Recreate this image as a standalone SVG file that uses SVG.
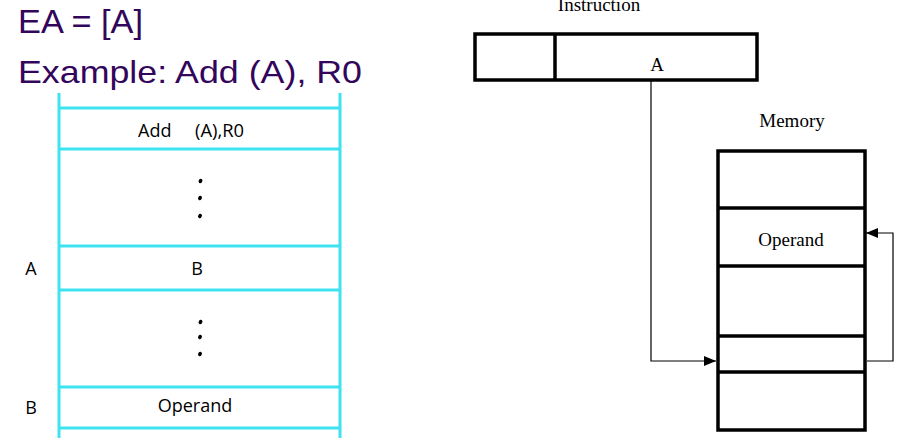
<svg xmlns="http://www.w3.org/2000/svg" width="912" height="438" viewBox="0 0 912 438">
<style>
.title{font-family:"Liberation Sans",Arial,sans-serif;fill:#33065c}
.cal{font-family:"Open Sans","Liberation Sans",sans-serif;font-size:18px;fill:#000}
.ser{font-family:"Liberation Serif","Times New Roman",serif;font-size:19px;fill:#000}
.cy{stroke:#3fe3f0;stroke-width:3;fill:none}
.bk{stroke:#000;stroke-width:3.5;fill:#fff}
.thin{stroke:#000;stroke-width:1.2;fill:none}
.dot{fill:#000}
</style>
<defs>
<marker id="ah" markerWidth="12" markerHeight="10" refX="12" refY="5" orient="auto" markerUnits="userSpaceOnUse">
<path d="M0,0 L12,5 L0,10 Z" fill="#000"/>
</marker>
</defs>
<text class="title" x="18" y="33" font-size="33" textLength="125" lengthAdjust="spacingAndGlyphs">EA = [A]</text>
<text class="title" x="18" y="83" font-size="32" textLength="344" lengthAdjust="spacingAndGlyphs">Example: Add (A), R0</text>

<g id="left-memory">
<line class="cy" x1="59" y1="93" x2="59" y2="438"/>
<line class="cy" x1="340" y1="93" x2="340" y2="438"/>
<line class="cy" x1="59" y1="108" x2="340" y2="108"/>
<line class="cy" x1="59" y1="149" x2="340" y2="149"/>
<line class="cy" x1="59" y1="246" x2="340" y2="246"/>
<line class="cy" x1="59" y1="290" x2="340" y2="290"/>
<line class="cy" x1="59" y1="387" x2="340" y2="387"/>
<line class="cy" x1="59" y1="428" x2="340" y2="428"/>
</g>
<g id="cell-add">
<text class="cal" x="138" y="137">Add</text>
<text class="cal" x="195" y="137" textLength="49" lengthAdjust="spacingAndGlyphs">(A),R0</text>
</g>
<g id="dots1">
<ellipse class="dot" cx="200.5" cy="181" rx="1.8" ry="2.3" transform="rotate(30 200.5 181)"/>
<ellipse class="dot" cx="200" cy="198" rx="1.8" ry="2.3" transform="rotate(30 200 198)"/>
<ellipse class="dot" cx="200" cy="216" rx="1.8" ry="2.3" transform="rotate(30 200 216)"/>
</g>
<g id="cell-A">
<text class="cal" x="31" y="275" text-anchor="middle">A</text>
<text class="cal" x="197" y="275" text-anchor="middle">B</text>
</g>
<g id="dots2">
<ellipse class="dot" cx="200.5" cy="322" rx="1.8" ry="2.3" transform="rotate(30 200.5 322)"/>
<ellipse class="dot" cx="200" cy="337" rx="1.8" ry="2.3" transform="rotate(30 200 337)"/>
<ellipse class="dot" cx="200" cy="354" rx="1.8" ry="2.3" transform="rotate(30 200 354)"/>
</g>
<g id="cell-B">
<text class="cal" x="31" y="414" text-anchor="middle">B</text>
<text class="cal" x="195" y="412" text-anchor="middle">Operand</text>
</g>

<g id="instruction">
<text class="ser" x="599" y="11" text-anchor="middle">Instruction</text>
<rect class="bk" x="475" y="34" width="282" height="46"/>
<line class="bk" x1="555" y1="34" x2="555" y2="80"/>
<text class="ser" x="657" y="71" text-anchor="middle">A</text>
</g>

<g id="memory">
<text class="ser" x="792" y="127" text-anchor="middle">Memory</text>
<rect class="bk" x="718" y="151" width="147" height="279"/>
<line class="bk" x1="718" y1="208" x2="865" y2="208"/>
<line class="bk" x1="718" y1="266" x2="865" y2="266"/>
<line class="bk" x1="718" y1="336" x2="865" y2="336"/>
<line class="bk" x1="718" y1="372" x2="865" y2="372"/>
<text class="ser" x="791" y="246" text-anchor="middle">Operand</text>
</g>

<g id="connectors">
<polyline class="thin" points="651,81 651,361 716,361" marker-end="url(#ah)"/>
<polyline class="thin" points="867,361 893,361 893,233 866,233" marker-end="url(#ah)"/>
</g>
</svg>
